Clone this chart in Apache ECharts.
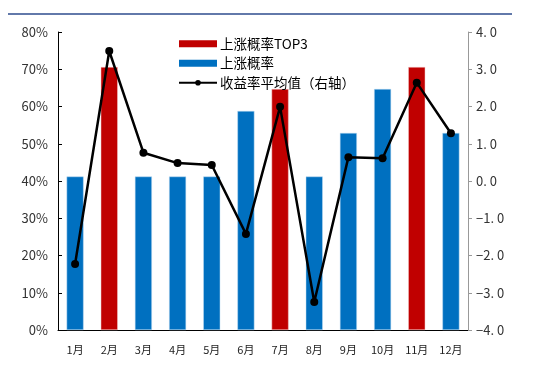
<!DOCTYPE html>
<html><head><meta charset="utf-8">
<script src="https://cdn.jsdelivr.net/npm/echarts@6/dist/echarts.min.js"></script>
<style>html,body{margin:0;padding:0;background:#fff}#c{width:533px;height:371px}</style>
</head><body><div id="c"></div>
<script>
var months = ['1月','2月','3月','4月','5月','6月','7月','8月','9月','10月','11月','12月'];
var upProb = [41.2, 70.6, 41.2, 41.2, 41.2, 58.8, 64.7, 41.2, 52.9, 64.7, 70.6, 52.9];
var top3Months = ['2月','7月','11月'];
var avgReturn = [-2.23, 3.49, 0.76, 0.48, 0.43, -1.42, 1.99, -3.25, 0.64, 0.61, 2.64, 1.28];

var topData = months.map(function(m,i){return top3Months.indexOf(m)>=0?upProb[i]:null;});
var otherData = months.map(function(m,i){return top3Months.indexOf(m)>=0?null:upProb[i];});

var chart = echarts.init(document.getElementById('c'), null, {renderer:'canvas'});
var font = '"Noto Sans CJK SC", "Liberation Sans", sans-serif';
chart.setOption({
  animation:false,
  textStyle:{fontFamily:font},
  grid:{left:58,right:65,top:32,bottom:41},
  graphic:[{type:'line',shape:{x1:8,y1:14,x2:512,y2:14},style:{stroke:'#2E4C8E',lineWidth:1.5}}],
  legend:{orient:'vertical',left:173,top:32,itemWidth:38,itemHeight:7,itemGap:6,
    textStyle:{fontSize:13.5,color:'#000',fontFamily:font,padding:[0,0,0,-2]},
    data:[{name:'上涨概率TOP3',icon:'rect',itemStyle:{borderWidth:0}},{name:'上涨概率',icon:'rect',itemStyle:{borderWidth:0}},{name:'收益率平均值（右轴）'}]},
  xAxis:{type:'category',data:months,
    axisLine:{lineStyle:{color:'#000',width:1}},
    axisTick:{inside:true,length:3,lineStyle:{color:'#000'}},
    axisLabel:{fontSize:11,color:'#222',margin:14}},
  yAxis:[
    {type:'value',min:0,max:80,interval:10,splitLine:{show:false},
     axisLine:{show:true,lineStyle:{color:'#000'}},
     axisTick:{show:true,inside:true,length:4,lineStyle:{color:'#000'}},
     axisLabel:{fontSize:13,color:'#333',formatter:'{value}%',margin:10}},
    {type:'value',min:-4,max:4,interval:1,splitLine:{show:false},
     axisLine:{show:true,lineStyle:{color:'#999'}},
     axisTick:{show:true,length:4,lineStyle:{color:'#999'}},
     axisLabel:{fontSize:13,color:'#333',margin:8,formatter:function(v){return v.toFixed(1).replace('.', '. ').replace('-','−');}}}
  ],
  series:[
    {name:'上涨概率TOP3',type:'bar',data:topData,barWidth:17,barGap:'-100%',
     itemStyle:{color:'#C00000',borderColor:'#F2C9C9',borderWidth:0.5}},
    {name:'上涨概率',type:'bar',data:otherData,barWidth:17,barGap:'-100%',
     itemStyle:{color:'#0070C0',borderColor:'#BFDDF2',borderWidth:0.5}},
    {name:'收益率平均值（右轴）',type:'line',yAxisIndex:1,data:avgReturn,
     symbol:'circle',symbolSize:8,lineStyle:{color:'#000',width:2.5},itemStyle:{color:'#000'}}
  ]
});
</script></body></html>
